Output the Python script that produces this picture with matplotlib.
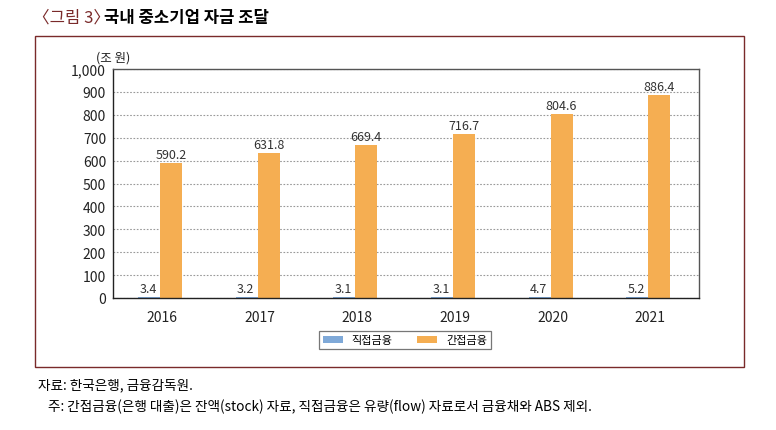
import matplotlib
matplotlib.use("Agg")
import matplotlib.pyplot as plt
import numpy as np
from matplotlib.patches import Rectangle

plt.rcParams['font.family'] = ['Noto Sans CJK KR', 'DejaVu Sans']

# data (조 원)
years = ["2016", "2017", "2018", "2019", "2020", "2021"]
direct = [3.4, 3.2, 3.1, 3.1, 4.7, 5.2]        # 직접금융
indirect = [590.2, 631.8, 669.4, 716.7, 804.6, 886.4]  # 간접금융

blue = "#7fa9d8"
orange = "#f5ae52"
frame_col = "#7a2a2a"

fig = plt.figure(figsize=(7.76, 4.31), dpi=100)

# outer frame
fig.patches.append(Rectangle((35 / 776, 1 - 368 / 431), 709 / 776, 331 / 431,
                             transform=fig.transFigure, fill=False,
                             edgecolor=frame_col, linewidth=1.0))

# title
fig.text(33 / 776, 1 - 18 / 431, "〈그림 3〉", color=frame_col, fontsize=12,
         va="center", ha="left")
fig.text(104 / 776, 1 - 18 / 431, "국내 중소기업 자금 조달", color="black", fontsize=12,
         va="center", ha="left", fontweight="bold")

ax = fig.add_axes([113 / 776, 1 - 299 / 431, 586 / 776, 229 / 431])

x = np.arange(len(years))
w = 0.225
b1 = ax.bar(x - w / 2 - 0.02, direct, w, color=blue, label="직접금융")
b2 = ax.bar(x + w / 2 - 0.02, indirect, w, color=orange, label="간접금융")

for xi, v in zip(x, direct):
    ax.text(xi - w / 2 - 0.03, v + 8, f"{v:.1f}", ha="center", va="bottom",
            fontsize=9, color="#333333")
for xi, v in zip(x, indirect):
    ax.text(xi + w / 2 - 0.02, v + 8, f"{v:.1f}", ha="center", va="bottom",
            fontsize=9, color="#333333")

ax.set_xlim(-0.5, len(years) - 0.5)
ax.set_ylim(0, 1000)
ax.set_yticks(range(0, 1001, 100))
ax.set_yticklabels([f"{t:,}" for t in range(0, 1001, 100)])
ax.set_xticks(x)
ax.set_xticklabels(years)
ax.tick_params(length=0, labelsize=10, colors="#222222")
ax.tick_params(axis="x", pad=9)
ax.tick_params(axis="y", pad=5)
ax.grid(axis="y", linestyle=(0, (1.5, 1.5)), color="#999999", linewidth=0.8)
ax.set_axisbelow(True)
for s in ax.spines.values():
    s.set_color("#555555")
    s.set_linewidth(1.0)
ax.spines["left"].set_color("#222222")
ax.spines["bottom"].set_color("#222222")

ax.text(0.0, 1.025, "(조 원)", transform=ax.transAxes, fontsize=9, ha="center",
        va="bottom", color="#222222")

leg = fig.legend(handles=[b1, b2], loc="center", bbox_to_anchor=(405 / 776, 1 - 341 / 431),
                 ncol=2, fontsize=8, frameon=True, fancybox=False,
                 handlelength=1.8, handleheight=0.6, columnspacing=2.2,
                 borderpad=0.35)
leg.get_frame().set_edgecolor("#555555")
leg.get_frame().set_linewidth(0.9)

fig.text(38 / 776, 1 - 385 / 431, "자료: 한국은행, 금융감독원.", fontsize=9.8, va="center")
fig.text(48 / 776, 1 - 407 / 431,
         "주: 간접금융(은행 대출)은 잔액(stock) 자료, 직접금융은 유량(flow) 자료로서 금융채와 ABS 제외.",
         fontsize=9.8, va="center")

fig.savefig("out.png", dpi=100)
